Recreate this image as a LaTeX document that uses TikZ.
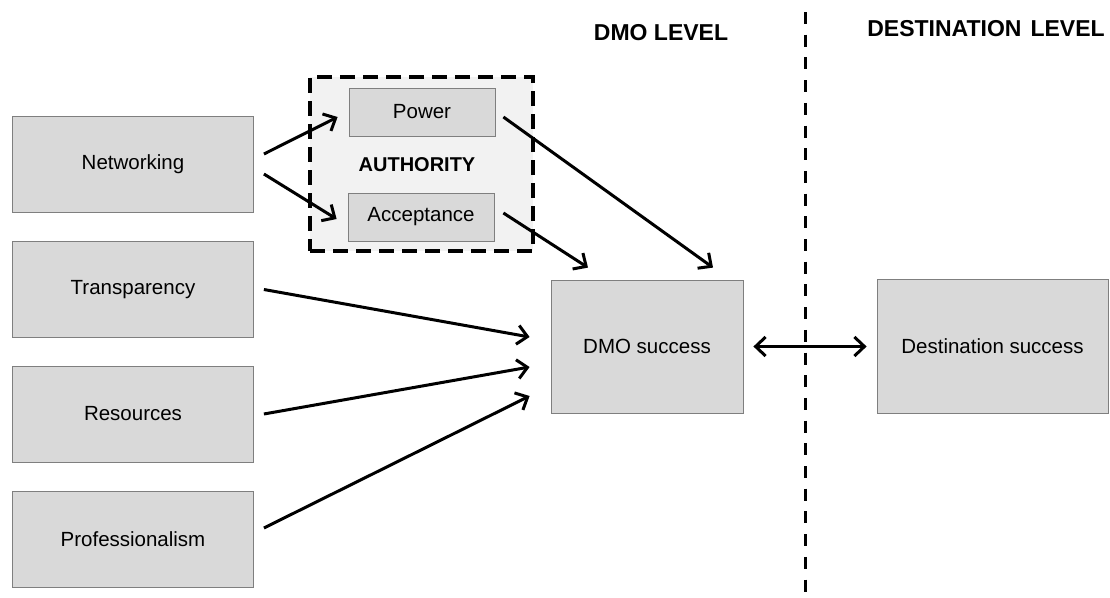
\documentclass[tikz,border=0pt]{standalone}
\usepackage{fontspec}
\setmainfont{Liberation Sans}
\usetikzlibrary{arrows.meta}
\definecolor{boxgray}{HTML}{D9D9D9}
\definecolor{linegray}{HTML}{7F7F7F}
\definecolor{authgray}{HTML}{F2F2F2}
\tikzset{
    factor/.style={draw=linegray, fill=boxgray, line width=0.8pt, font=\fontsize{20.5}{24}\selectfont},
    heading/.style={font=\bfseries\fontsize{23}{27}\selectfont},
    barb/.tip={Straight Barb[length=10pt,width=19pt,line width=3pt]},
    link/.style={-barb, line width=3pt}
}
\begin{document}
\begin{tikzpicture}[x=1pt, y=-1pt]
        \useasboundingbox (0,0) rectangle (1110,597);
        \foreach \name/\txt/\y in {net/Networking/164, trans/Transparency/289.5, res/Resources/414, prof/Professionalism/539}
            {
                \node[factor, minimum width=241pt, minimum height=96pt] (\name) at (133,\y) {\txt};
            }
        \node[draw, fill=authgray, line width=4.5pt, dash pattern=on 15pt off 8pt, minimum width=223pt, minimum height=174pt] (auth) at (421.5,164) {};
        \node[factor, minimum width=146pt, minimum height=48pt] (power) at (422,112) {Power};
        \node[factor, minimum width=146pt, minimum height=48pt] (accept) at (421,217) {Acceptance};
        \node[font=\bfseries\fontsize{20}{24}\selectfont] (authlbl) at (417,165) {AUTHORITY};
        \node[factor, minimum width=192pt, minimum height=133pt] (dmo) at (647,346.5) {DMO success};
        \node[factor, minimum width=231pt, minimum height=134pt] (dest) at (992.5,346.5) {Destination success};
        \node[heading] (dmolevel) at (661,33) {DMO LEVEL};
        \node[heading] (destlevel) at (986,29) {DESTINATION\hspace{9pt}LEVEL};
        \coordinate (divtop) at (805,12);
        \coordinate (divbot) at (805,597);
        \draw[line width=3pt, dash pattern=on 12pt off 10.7pt] (divtop) -- (divbot);
        \draw[link] ([xshift=10pt,yshift=10pt]net.east) -- ([xshift=-11pt,yshift=-5pt]power.west);
        \draw[link] ([xshift=10pt,yshift=-10pt]net.east) -- ([xshift=-11pt,yshift=-2pt]accept.west);
        \draw[link] ([xshift=8pt,yshift=-5pt]power.east) -- ([xshift=66pt,yshift=12pt]dmo.north);
        \draw[link] ([xshift=9pt,yshift=4pt]accept.east) -- ([xshift=-59pt,yshift=12pt]dmo.north);
        \draw[link] ([xshift=10pt]trans.east) -- ([xshift=-21pt,yshift=9.5pt]dmo.west);
        \draw[link] ([xshift=10pt]res.east) -- ([xshift=-21pt,yshift=-20.5pt]dmo.west);
        \draw[link] ([xshift=10pt,yshift=11pt]prof.east) -- ([xshift=-21pt,yshift=-49.5pt]dmo.west);
        \draw[link, barb-barb, shorten <=10pt, shorten >=10pt] (dmo.east) -- (dest.west);
    \end{tikzpicture}
\end{document}
